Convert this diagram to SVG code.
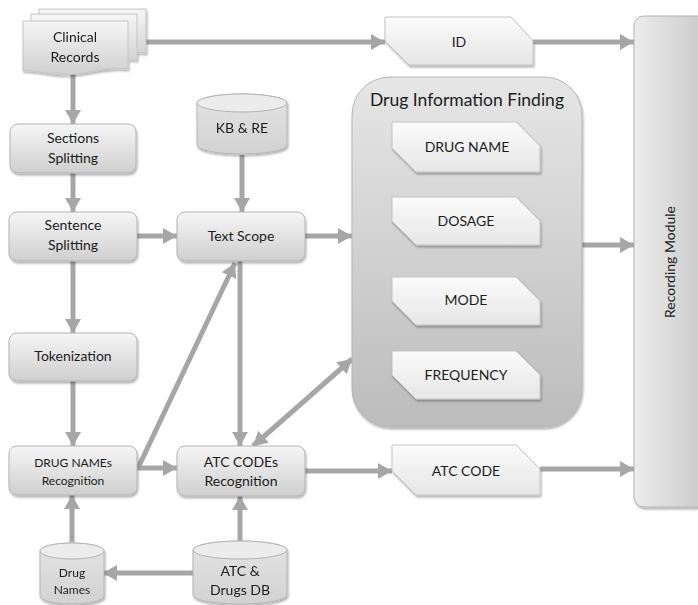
<svg xmlns="http://www.w3.org/2000/svg" width="698" height="605" viewBox="0 0 698 605">
  <defs>
    <linearGradient id="boxFill" x1="0" y1="0" x2="0" y2="1">
      <stop offset="0" stop-color="#f6f6f6"/>
      <stop offset="1" stop-color="#cfcfcf"/>
    </linearGradient>
    <linearGradient id="cardFill" x1="0" y1="0" x2="0" y2="1">
      <stop offset="0" stop-color="#fbfbfb"/>
      <stop offset="1" stop-color="#e6e6e6"/>
    </linearGradient>
    <linearGradient id="groupFill" x1="0" y1="0" x2="0" y2="1">
      <stop offset="0" stop-color="#e6e6e6"/>
      <stop offset="1" stop-color="#bcbcbc"/>
    </linearGradient>
    <linearGradient id="moduleFill" x1="0" y1="0" x2="1" y2="0">
      <stop offset="0" stop-color="#ececec"/>
      <stop offset="1" stop-color="#c6c6c6"/>
    </linearGradient>
    <linearGradient id="cylFill" x1="0" y1="0" x2="0" y2="1">
      <stop offset="0" stop-color="#e4e4e4"/>
      <stop offset="1" stop-color="#d2d2d2"/>
    </linearGradient>
    <filter id="shadow" x="-10%" y="-10%" width="130%" height="130%">
      <feDropShadow dx="1" dy="2" stdDeviation="1.2" flood-color="#000" flood-opacity="0.3"/>
    </filter>
    <marker id="head" markerUnits="userSpaceOnUse" markerWidth="16" markerHeight="16" refX="14" refY="8" orient="auto-start-reverse">
      <path d="M0,0 L14,8 L0,16 z" fill="#a6a6a6"/>
    </marker>
    <style>
      .box { fill: url(#boxFill); stroke: #b4b4b4; stroke-width: 1; filter: url(#shadow); }
      .card { fill: url(#cardFill); stroke: #c4c4c4; stroke-width: 1; filter: url(#shadow); }
      .cyl { fill: url(#cylFill); stroke: #b4b4b4; stroke-width: 1; }
      .cyltop { fill: #ececec; stroke: #b4b4b4; stroke-width: 1; }
      .doc { fill: url(#boxFill); stroke: #c4c4c4; stroke-width: 1; }
      .lbl { font-family: Lato, "Open Sans", "Liberation Sans", sans-serif; font-size: 14px; fill: #1c1c1c; text-anchor: middle; }
      .sm { font-size: 12px; }
      .big { font-size: 17.5px; }
      .wire { fill: none; stroke: #a6a6a6; stroke-width: 5; marker-end: url(#head); }
      .both { marker-start: url(#head); }
    </style>
  </defs>

  <!-- connectors -->
  <g id="connectors">
    <path class="wire" d="M146,42 L385,42"/>
    <path class="wire" d="M533,42 L634,42"/>
    <path class="wire" d="M73,74 L73,124"/>
    <path class="wire" d="M73,173 L73,212"/>
    <path class="wire" d="M73,261 L73,333"/>
    <path class="wire" d="M73,381 L73,446"/>
    <path class="wire" d="M242,155 L242,212"/>
    <path class="wire" d="M137,236 L177,236"/>
    <path class="wire" d="M305,236 L352,236"/>
    <path class="wire" d="M582,245 L634,245"/>
    <path class="wire" d="M240,261 L240,446"/>
    <path class="wire" d="M137,468 L177,468"/>
    <path class="wire" d="M138,468 L235,263"/>
    <path class="wire both" d="M253,446 L352,359"/>
    <path class="wire" d="M305,471 L392,471"/>
    <path class="wire" d="M540,469 L634,469"/>
    <path class="wire" d="M72,542 L72,495"/>
    <path class="wire" d="M240,541 L240,496"/>
    <path class="wire" d="M193,573 L103,573"/>
  </g>

  <!-- stacked document source -->
  <g id="clinical-records" filter="url(#shadow)">
    <path class="doc" d="M39,9 L146,9 L146,53 C120,50 95,62 70,58 C55,56 46,54 39,55 Z"/>
    <path class="doc" d="M31,14 L137,14 L137,60 C111,57 86,69 61,65 C46,63 38,61 31,62 Z"/>
    <path class="doc" d="M23,21 L128,21 L128,69 C102,66 78,78 53,74 C39,72 30,70 23,71 Z"/>
    <text class="lbl" x="75" y="42">Clinical</text>
    <text class="lbl" x="75" y="62">Records</text>
  </g>

  <g id="sections-splitting">
    <rect class="box" x="10" y="124" width="126" height="49" rx="8"/>
    <text class="lbl" x="73" y="143">Sections</text>
    <text class="lbl" x="73" y="163">Splitting</text>
  </g>

  <g id="sentence-splitting">
    <rect class="box" x="9" y="212" width="128" height="49" rx="8"/>
    <text class="lbl" x="73" y="230">Sentence</text>
    <text class="lbl" x="73" y="250">Splitting</text>
  </g>

  <g id="tokenization">
    <rect class="box" x="9" y="333" width="128" height="48" rx="8"/>
    <text class="lbl" x="73" y="361">Tokenization</text>
  </g>

  <g id="drug-names-recognition">
    <rect class="box" x="9" y="446" width="128" height="49" rx="8"/>
    <text class="lbl sm" x="73" y="467">DRUG NAMEs</text>
    <text class="lbl sm" x="73" y="485">Recognition</text>
  </g>

  <g id="kb-re" filter="url(#shadow)">
    <path class="cyl" d="M197,103 L197,145 A45,9 0 0 0 287,145 L287,103 A45,9 0 0 0 197,103 Z"/>
    <ellipse class="cyltop" cx="242" cy="103" rx="45" ry="9"/>
    <text class="lbl" x="242" y="133">KB &amp; RE</text>
  </g>

  <g id="text-scope">
    <rect class="box" x="177" y="212" width="128" height="49" rx="8"/>
    <text class="lbl" x="241" y="241">Text Scope</text>
  </g>

  <g id="atc-codes-recognition">
    <rect class="box" x="177" y="446" width="128" height="50" rx="8"/>
    <text class="lbl" x="241" y="467">ATC CODEs</text>
    <text class="lbl" x="241" y="486">Recognition</text>
  </g>

  <g id="drug-names-db" filter="url(#shadow)">
    <path class="cyl" d="M40,551 L40,596 A32,8 0 0 0 104,596 L104,551 A32,8 0 0 0 40,551 Z"/>
    <ellipse class="cyltop" cx="72" cy="551" rx="32" ry="8"/>
    <text class="lbl sm" x="72" y="577">Drug</text>
    <text class="lbl sm" x="72" y="594">Names</text>
  </g>

  <g id="atc-drugs-db" filter="url(#shadow)">
    <path class="cyl" d="M193,550 L193,595 A47,9 0 0 0 287,595 L287,550 A47,9 0 0 0 193,550 Z"/>
    <ellipse class="cyltop" cx="240" cy="550" rx="47" ry="9"/>
    <text class="lbl" x="240" y="576">ATC &amp;</text>
    <text class="lbl" x="240" y="595">Drugs DB</text>
  </g>

  <g id="id-field">
    <path class="card" d="M385,17 L511,17 L533,41 L533,65 L409,65 L385,41 Z"/>
    <text class="lbl" x="459" y="47">ID</text>
  </g>

  <g id="drug-information-finding">
    <rect x="352" y="77" width="230" height="350" rx="38" fill="url(#groupFill)" stroke="#b4b4b4" stroke-width="1" filter="url(#shadow)"/>
    <text class="lbl big" x="467" y="106">Drug Information Finding</text>
  </g>

  <g id="drug-name">
    <path class="card" d="M392,122 L516,122 L540,146 L540,172 L416,172 L392,148 Z"/>
    <text class="lbl" x="467" y="152">DRUG NAME</text>
  </g>

  <g id="dosage">
    <path class="card" d="M392,197 L516,197 L540,221 L540,245 L416,245 L392,221 Z"/>
    <text class="lbl" x="466" y="226">DOSAGE</text>
  </g>

  <g id="mode">
    <path class="card" d="M392,277 L516,277 L540,301 L540,325 L416,325 L392,301 Z"/>
    <text class="lbl" x="466" y="305">MODE</text>
  </g>

  <g id="frequency">
    <path class="card" d="M392,351 L516,351 L540,375 L540,399 L416,399 L392,375 Z"/>
    <text class="lbl" x="466" y="380">FREQUENCY</text>
  </g>

  <g id="atc-code">
    <path class="card" d="M392,445 L516,445 L540,469 L540,495 L416,495 L392,471 Z"/>
    <text class="lbl" x="466" y="476">ATC CODE</text>
  </g>

  <g id="recording-module">
    <rect x="634" y="16" width="80" height="491" rx="10" fill="url(#moduleFill)" stroke="#b4b4b4" stroke-width="1" filter="url(#shadow)"/>
    <text class="lbl" transform="translate(675,262) rotate(-90)">Recording Module</text>
  </g>
</svg>
